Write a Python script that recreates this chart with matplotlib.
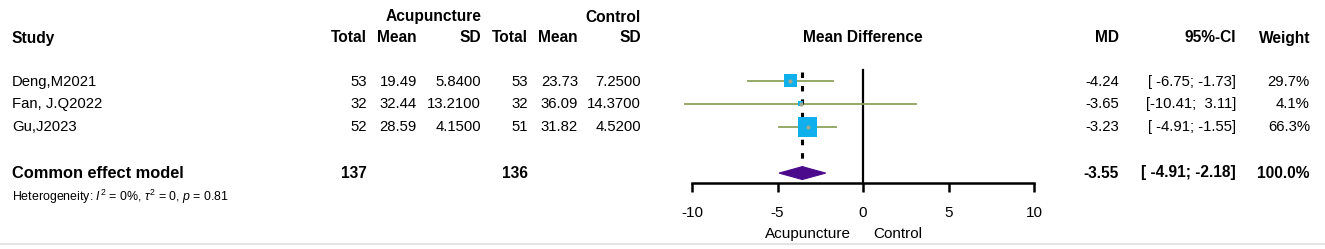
import matplotlib
matplotlib.use("Agg")
import matplotlib.pyplot as plt
from matplotlib.patches import Polygon
import numpy as np

plt.rcParams['font.family'] = ['Liberation Sans', 'DejaVu Sans']
plt.rcParams['mathtext.fontset'] = 'custom'
plt.rcParams['mathtext.rm'] = 'Liberation Sans'
plt.rcParams['mathtext.it'] = 'Liberation Sans:italic'

# ---------------- data ----------------
studies = ["Deng,M2021", "Fan, J.Q2022", "Gu,J2023"]
acu_total = [53, 32, 52]
acu_mean = [19.49, 32.44, 28.59]
acu_sd = [5.84, 13.21, 4.15]
ctl_total = [53, 32, 51]
ctl_mean = [23.73, 36.09, 31.82]
ctl_sd = [7.25, 14.37, 4.52]
md = [-4.24, -3.65, -3.23]
ci_lo = [-6.75, -10.41, -4.91]
ci_hi = [-1.73, 3.11, -1.55]
weight = [29.7, 4.1, 66.3]

pooled_label = "Common effect model"
pooled_acu_total = 137
pooled_ctl_total = 136
pooled_md = -3.55
pooled_lo = -4.91
pooled_hi = -2.18
pooled_weight = 100.0
heterogeneity = r"Heterogeneity: $I^2$ = 0%, $\tau^2$ = 0, $p$ = 0.81"

xticks = [-10, -5, 0, 5, 10]
favours = ["Acupuncture", "Control"]

# ---------------- figure ----------------
W, H = 1325, 249
fig = plt.figure(figsize=(W / 100, H / 100), dpi=100)
fig.patch.set_facecolor("white")

FS = 10.7
FSB = 11.2

def ptext(x, y, s, ha="left", bold=False, size=None, **kw):
    if size is None:
        size = FSB if bold else FS
    fig.text(x / W, 1 - y / H, s, ha=ha, va="center",
             fontweight="bold" if bold else "normal", fontsize=size, **kw)

# headers
ptext(481, 17, "Acupuncture", ha="right", bold=True)
ptext(641, 17, "Control", ha="right", bold=True)
ptext(12, 38, "Study", bold=True)
for x, s in [(367, "Total"), (417, "Mean"), (481, "SD"),
             (528, "Total"), (578, "Mean"), (641, "SD")]:
    ptext(x, 38, s, ha="right", bold=True)
ptext(863, 38, "Mean Difference", ha="center", bold=True)
ptext(1119, 38, "MD", ha="right", bold=True)
ptext(1236, 38, "95%-CI", ha="right", bold=True)
ptext(1310, 38, "Weight", ha="right", bold=True)

row_y = [82, 104, 127]
for i, yy in enumerate(row_y):
    ptext(12, yy, studies[i])
    ptext(367, yy, f"{acu_total[i]}", ha="right")
    ptext(417, yy, f"{acu_mean[i]:.2f}", ha="right")
    ptext(481, yy, f"{acu_sd[i]:.4f}", ha="right")
    ptext(528, yy, f"{ctl_total[i]}", ha="right")
    ptext(578, yy, f"{ctl_mean[i]:.2f}", ha="right")
    ptext(641, yy, f"{ctl_sd[i]:.4f}", ha="right")
    ptext(1119, yy, f"{md[i]:.2f}", ha="right")
    ptext(1236, yy, f"[{ci_lo[i]:6.2f}; {ci_hi[i]:5.2f}]", ha="right")
    ptext(1310, yy, f"{weight[i]:.1f}%", ha="right")

ys = 173
ptext(12, ys, pooled_label, bold=True, size=11.8)
ptext(367, ys, f"{pooled_acu_total}", ha="right", bold=True)
ptext(528, ys, f"{pooled_ctl_total}", ha="right", bold=True)
ptext(1119, ys, f"{pooled_md:.2f}", ha="right", bold=True)
ptext(1236, ys, f"[{pooled_lo:6.2f}; {pooled_hi:5.2f}]", ha="right", bold=True)
ptext(1310, ys, f"{pooled_weight:.1f}%", ha="right", bold=True)
ptext(12, 197, heterogeneity, size=8.9)

# favours labels
ptext(808, 234, favours[0], ha="center", size=11)
ptext(898, 234, favours[1], ha="center", size=11)

# bottom separator
fig.add_artist(plt.Line2D([0, 1], [1 - 243.5 / H] * 2, color="#e4e4e4", lw=1.5,
                          transform=fig.transFigure))

# ---------------- forest axes ----------------
x0_px, x1_px = 692, 1034
top_px, bot_px = 67, 183
ax = fig.add_axes([x0_px / W, 1 - bot_px / H, (x1_px - x0_px) / W, (bot_px - top_px) / H])
ax.set_xlim(-10, 10)
row_pos = [0, 1, 2]
pool_pos = 4
ax.set_ylim(4.43, -0.6)
ax.patch.set_alpha(0)
for s in ["top", "right", "left"]:
    ax.spines[s].set_visible(False)
ax.spines["bottom"].set_linewidth(1.8)
ax.spines["bottom"].set_bounds(-10, 10)
ax.set_yticks([])
ax.set_xticks(xticks)
ax.set_xticklabels([str(t) for t in xticks], fontsize=11)
ax.tick_params(axis="x", length=6.5, width=1.8, pad=10)

# zero line
ax.plot([0, 0], [-0.45, 4.43], color="black", lw=1.6, clip_on=False, zorder=2)
# pooled dashed line
dh = 0.28
ax.plot([pooled_md, pooled_md], [-0.4, pool_pos - dh], color="black", lw=2.2,
        linestyle=(0, (1.8, 2.6)), clip_on=False, zorder=4)

# CIs and squares
max_side = 14.0  # points for largest weight
for i, p in enumerate(row_pos):
    ax.plot([ci_lo[i], ci_hi[i]], [p, p], color="#8fa35a", lw=1.3, clip_on=False, zorder=3)
    side = max_side * np.sqrt(weight[i] / max(weight))
    ax.scatter([md[i]], [p], marker="s", s=side ** 2, color="#0fb0ec",
               edgecolors="none", zorder=5, clip_on=False)
    ax.scatter([md[i]], [p], marker="o", s=4, color="#a0a890", zorder=6, clip_on=False)

# pooled diamond
diamond = Polygon([(pooled_lo, pool_pos), (pooled_md, pool_pos - dh),
                   (pooled_hi, pool_pos), (pooled_md, pool_pos + dh)],
                  closed=True, facecolor="#4b0a8c", edgecolor="#4b0a8c", lw=0.8, zorder=5)
ax.add_patch(diamond)

fig.savefig("out.png", dpi=100, facecolor="white")
